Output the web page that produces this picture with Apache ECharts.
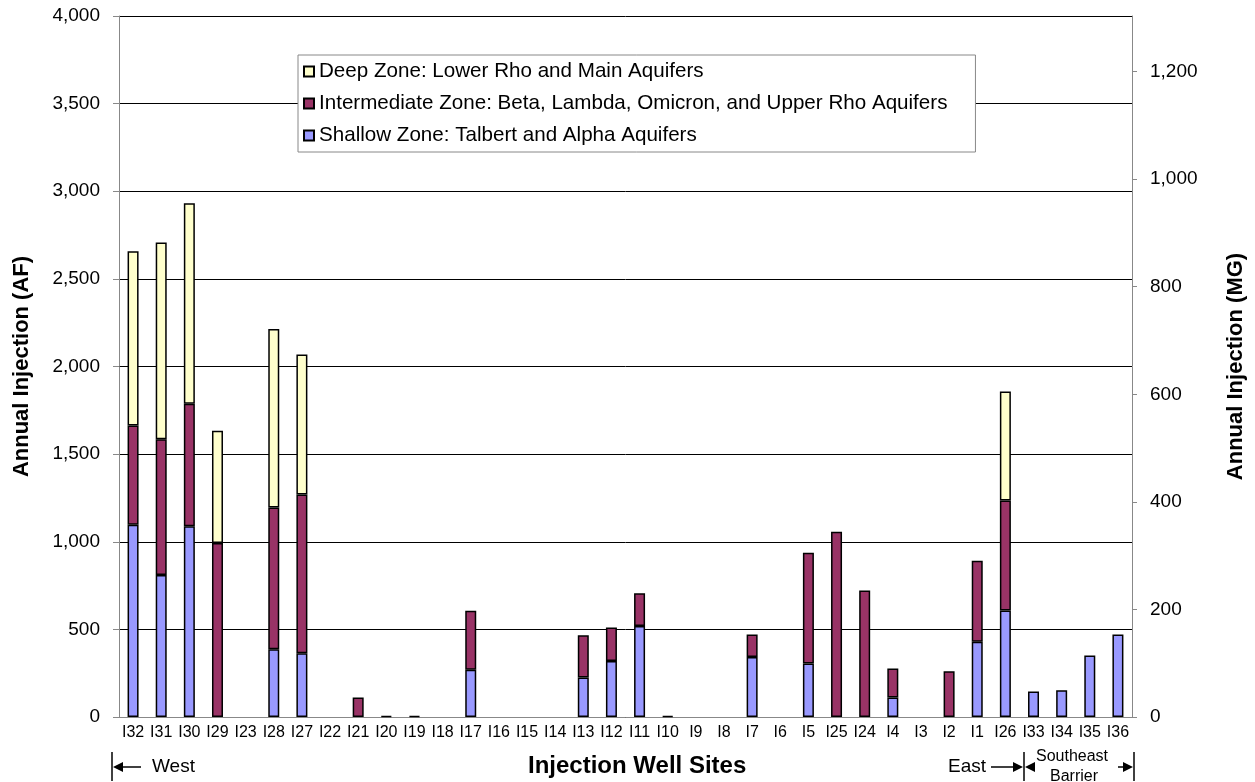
<!DOCTYPE html>
<html>
<head>
<meta charset="utf-8">
<script src="https://cdn.jsdelivr.net/npm/echarts@6/dist/echarts.min.js"></script>
<style>
	html, body { margin: 0; padding: 0; background: #fff; }
	#chart { width: 1255px; height: 782px; }
</style>
</head>
<body>
<div id="chart"></div>
<script>
	'use strict'
	/*----data (AF)----*/
	var wells = ['I32', 'I31', 'I30', 'I29', 'I23', 'I28', 'I27', 'I22', 'I21', 'I20', 'I19', 'I18',
		'I17', 'I16', 'I15', 'I14', 'I13', 'I12', 'I11', 'I10', 'I9', 'I8', 'I7', 'I6',
		'I5', 'I25', 'I24', 'I4', 'I3', 'I2', 'I1', 'I26', 'I33', 'I34', 'I35', 'I36'];
	var shallow = [1097, 810, 1089, null, null, 387, 364, null, null, null, null, null,
		269, null, null, null, 225, 319, 519, null, null, null, 342, null,
		305, null, null, 111, null, null, 429, 607, 145, 153, 351, 471];
	var intermediate = [566, 775, 698, 993, null, 808, 906, null, 111, 5, 5, null,
		337, null, null, null, 241, 192, 187, 5, null, null, 129, null,
		632, 1057, 722, 166, null, 261, 462, 628, null, null, null, null];
	var deep = [995, 1122, 1145, 641, null, 1019, 798, null, null, null, null, null,
		null, null, null, null, null, null, null, null, null, null, null, null,
		null, null, null, null, null, null, null, 622, null, null, null, null];
	var names = ['Deep Zone: Lower Rho and Main Aquifers',
		'Intermediate Zone: Beta, Lambda, Omicron, and Upper Rho Aquifers',
		'Shallow Zone: Talbert and Alpha Aquifers'];
	var afMax = 4000;
	var mgPerAf = 0.3258514;

	var font = "'Liberation Sans', Arial, sans-serif";
	var fmt = function (v) { return Math.round(v).toLocaleString('en-US'); };

	function bar(name, data, color) {
		return {
			name: name,
			type: 'bar',
			stack: 'zones',
			barWidth: 11,
			data: data,
			itemStyle: {
				color: color,
				borderColor: '#000',
				borderWidth: 1.5
			}
		};
	}

	var chart = echarts.init(document.getElementById('chart'));
	var option = {
		animation: false,
		textStyle: { fontFamily: font, color: '#000' },
		grid: {
			left: 119,
			right: 120,
			top: 16,
			bottom: 65
		},
		legend: {
			orient: 'vertical',
			left: 298,
			top: 55,
			data: names,
			icon: 'rect',
			itemWidth: 10,
			itemHeight: 10,
			itemGap: 11,
			padding: [6, 28, 6, 5],
			backgroundColor: '#fff',
			borderColor: '#888',
			borderWidth: 1,
			textStyle: { fontSize: 20.6, fontFamily: font, color: '#000' }
		},
		xAxis: {
			type: 'category',
			data: wells,
			axisTick: { show: false },
			axisLine: { lineStyle: { color: '#888', width: 1 } },
			axisLabel: { interval: 0, fontSize: 16, color: '#000', margin: 8, fontFamily: font }
		},
		yAxis: [{
			type: 'value',
			min: 0,
			max: afMax,
			interval: 500,
			name: 'Annual Injection (AF)',
			nameLocation: 'middle',
			nameGap: 86,
			nameTextStyle: { fontSize: 22, fontWeight: 'bold', fontFamily: font, color: '#000' },
			axisLine: { show: true, lineStyle: { color: '#888' } },
			axisTick: { show: true, length: 6, lineStyle: { color: '#888' } },
			axisLabel: { fontSize: 19, color: '#000', margin: 19, formatter: fmt, fontFamily: font },
			splitLine: { lineStyle: { color: '#000', width: 1 } }
		}, {
			type: 'value',
			position: 'right',
			min: 0,
			max: afMax * mgPerAf,
			interval: 200,
			name: 'Annual Injection (MG)',
			nameLocation: 'middle',
			nameGap: 93,
			nameTextStyle: { fontSize: 22, fontWeight: 'bold', fontFamily: font, color: '#000' },
			axisLine: { show: true, lineStyle: { color: '#888' } },
			axisTick: { show: true, length: 5, lineStyle: { color: '#888' } },
			axisLabel: { fontSize: 19, color: '#000', margin: 18, formatter: fmt, fontFamily: font, showMaxLabel: false },
			splitLine: { show: false }
		}],
		series: [
			bar(names[2], shallow, '#9999ff'),
			bar(names[1], intermediate, '#993366'),
			bar(names[0], deep, '#ffffcc')
		],
		graphic: [
			/*----x axis title----*/
			{ type: 'text', left: 528, top: 754,
				style: { text: 'Injection Well Sites', font: 'bold 24px ' + font, fill: '#000' } },
			/*----West----*/
			{ type: 'line', shape: { x1: 112, y1: 752, x2: 112, y2: 781 }, style: { stroke: '#000', lineWidth: 1.5 } },
			{ type: 'line', shape: { x1: 120, y1: 767, x2: 141, y2: 767 }, style: { stroke: '#000', lineWidth: 1.5 } },
			{ type: 'polygon', shape: { points: [[113, 767], [123, 762], [123, 772]] }, style: { fill: '#000' } },
			{ type: 'text', left: 152, top: 757, style: { text: 'West', font: '19px ' + font, fill: '#000' } },
			/*----East / Southeast Barrier----*/
			{ type: 'text', left: 948, top: 757, style: { text: 'East', font: '19px ' + font, fill: '#000' } },
			{ type: 'line', shape: { x1: 991, y1: 767, x2: 1015, y2: 767 }, style: { stroke: '#000', lineWidth: 1.5 } },
			{ type: 'polygon', shape: { points: [[1023, 767], [1013, 762], [1013, 772]] }, style: { fill: '#000' } },
			{ type: 'line', shape: { x1: 1024, y1: 752, x2: 1024, y2: 781 }, style: { stroke: '#000', lineWidth: 1.5 } },
			{ type: 'polygon', shape: { points: [[1025, 767], [1035, 762], [1035, 772]] }, style: { fill: '#000' } },
			{ type: 'text', left: 1036, top: 749, style: { text: 'Southeast', font: '16px ' + font, fill: '#000' } },
			{ type: 'text', left: 1050, top: 769, style: { text: 'Barrier', font: '16px ' + font, fill: '#000' } },
			{ type: 'line', shape: { x1: 1118, y1: 767, x2: 1126, y2: 767 }, style: { stroke: '#000', lineWidth: 1.5 } },
			{ type: 'polygon', shape: { points: [[1133, 767], [1123, 762], [1123, 772]] }, style: { fill: '#000' } },
			{ type: 'line', shape: { x1: 1134, y1: 752, x2: 1134, y2: 781 }, style: { stroke: '#000', lineWidth: 1.5 } }
		]
	};
	chart.setOption(option);
</script>
</body>
</html>
